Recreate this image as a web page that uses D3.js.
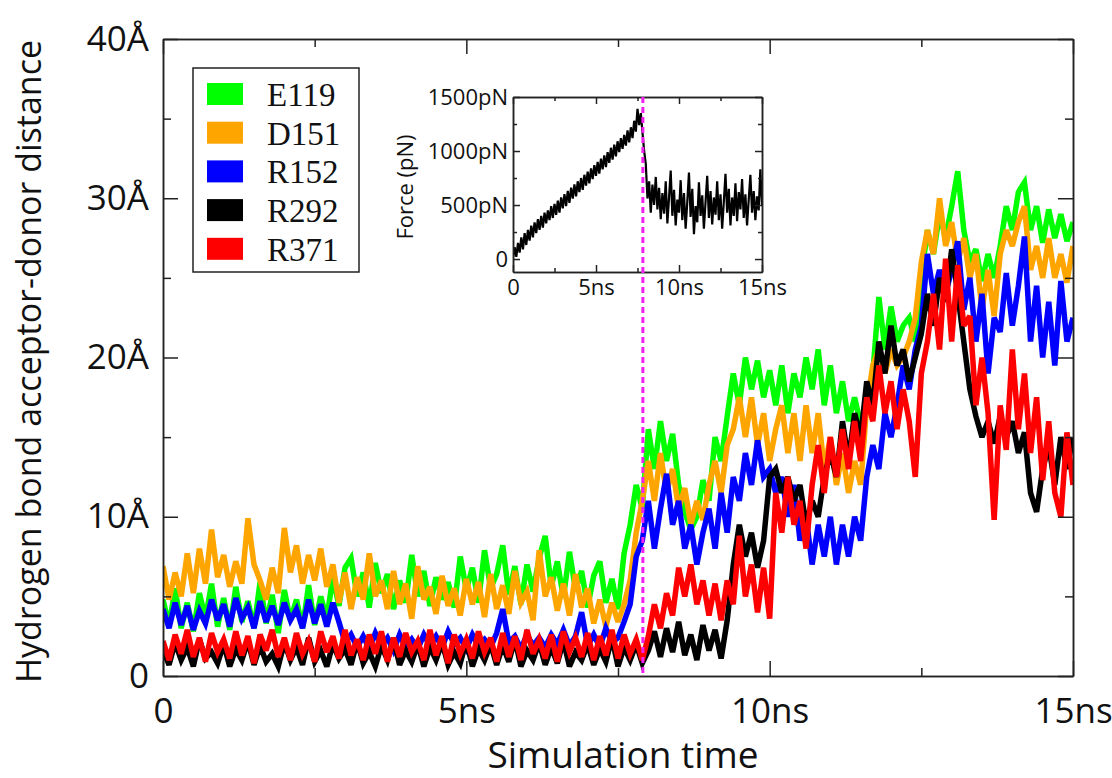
<!DOCTYPE html>
<html>
<head>
<meta charset="utf-8">
<script src="https://d3js.org/d3.v7.min.js"></script>
<style>
  body { margin: 0; background: #fff; }
  svg { display: block; }
</style>
</head>
<body>
<div id="chart"></div>
<script>
// samples are 0.1 ns apart, starting at 0 ns
var timeStep = 0.1;

// hydrogen bond acceptor-donor distance (Å)
var e119 = [4.8,3.2,5.5,3.0,4.6,2.8,5.2,3.6,5.8,3.1,4.9,2.9,5.6,3.4,4.7,3.0,5.9,3.3,5.1,2.7,
  5.4,3.5,4.8,3.0,5.7,3.2,5.0,3.6,6.2,4.4,6.8,7.4,5.0,6.5,4.3,7.1,5.2,6.4,4.2,6.0,
  4.6,7.6,5.0,6.6,4.4,6.2,4.8,5.9,4.3,7.5,5.4,6.8,4.6,7.9,5.5,6.4,8.2,5.1,6.9,4.5,
  7.0,5.3,7.4,8.8,5.6,7.2,4.9,7.8,5.4,6.6,4.3,6.3,7.2,4.6,6.1,4.2,7.7,9.5,12.0,10.5,
  15.5,13.0,16.0,13.5,15.2,12.0,10.3,9.2,10.0,12.3,11.0,15.0,13.5,16.3,19.0,17.0,20.0,18.0,19.8,17.5,
  19.2,17.0,19.5,16.5,19.0,17.5,20.0,18.0,20.5,17.0,19.5,16.5,18.5,16.0,17.5,15.8,17.0,19.0,23.8,20.5,
  23.2,21.0,22.0,22.5,21.0,25.0,28.0,26.5,29.0,27.5,29.5,31.7,28.0,26.0,26.8,24.8,26.5,25.0,27.0,29.5,
  28.0,30.4,31.0,28.0,29.5,27.2,29.3,27.5,29.0,27.3,28.5];
var d151 = [6.9,4.8,6.5,5.0,7.7,5.2,8.0,5.8,9.2,6.2,7.6,5.6,7.2,5.8,9.9,7.0,6.0,4.8,6.8,5.2,
  9.3,6.5,8.2,5.8,7.6,6.0,8.0,5.6,7.0,4.6,6.5,4.2,6.2,4.8,7.7,5.0,6.0,4.2,6.6,4.5,
  5.8,3.6,6.9,4.8,5.6,3.9,6.3,4.4,5.5,3.8,6.1,4.5,5.9,3.7,6.4,4.2,5.7,3.9,6.6,4.6,
  5.3,3.5,7.9,5.0,6.2,4.1,5.8,3.8,6.4,4.3,5.5,3.3,4.8,3.1,4.6,3.4,4.5,6.0,9.0,11.0,
  13.5,11.0,14.0,11.5,13.0,10.5,11.8,9.5,11.0,9.8,12.0,13.5,11.5,14.5,15.5,17.5,15.0,17.5,14.5,16.5,
  13.5,15.5,17.0,14.0,16.5,13.5,17.0,14.0,16.5,13.0,15.0,12.0,14.0,11.5,13.5,12.0,17.0,19.5,20.5,19.0,
  20.5,19.5,20.0,21.0,22.5,26.0,28.0,26.5,30.0,27.0,28.5,26.0,27.5,25.0,26.5,23.0,25.5,22.6,26.5,28.0,
  27.0,28.5,29.5,25.5,27.0,25.0,27.5,25.0,26.5,24.7,27.0];
var r152 = [4.2,3.0,4.6,3.2,4.4,2.9,4.1,3.3,4.8,3.5,4.5,3.1,4.9,3.6,4.3,3.0,4.7,3.4,4.4,3.2,
  4.6,3.5,4.2,3.0,4.8,3.3,4.5,3.1,4.6,3.4,2.1,2.6,1.8,2.5,1.7,2.7,1.9,2.4,1.6,2.6,
  1.8,2.3,1.7,2.6,1.9,2.5,1.8,2.8,2.0,2.4,1.7,2.6,1.9,2.3,1.8,2.7,4.2,2.1,2.5,1.7,
  2.6,1.9,2.4,1.8,2.6,2.0,2.9,1.9,2.5,4.0,1.9,2.6,1.8,3.0,2.1,2.4,3.4,4.5,7.5,8.5,
  11.0,8.0,10.5,12.7,9.5,11.0,8.0,9.5,7.0,9.0,10.5,8.0,11.5,9.0,12.5,11.0,14.0,12.0,14.8,12.5,
  13.0,11.5,12.5,10.0,12.0,8.5,10.0,7.0,9.5,7.5,10.0,7.0,9.5,7.5,10.0,8.5,12.5,14.5,13.0,16.5,
  15.0,17.0,19.5,18.0,20.5,22.0,26.5,24.0,25.5,24.0,25.5,27.3,23.0,25.0,21.0,24.0,19.0,22.5,21.6,25.3,
  22.0,24.5,27.6,21.0,24.5,20.0,23.5,19.5,24.8,21.0,22.5];
var r292 = [1.6,0.7,2.1,1.0,1.8,0.6,2.3,1.1,1.5,0.8,2.0,0.6,1.7,1.0,2.2,0.7,1.9,0.9,1.4,0.6,
  2.1,1.0,1.8,0.7,2.4,0.9,1.6,0.6,2.0,1.1,1.7,0.7,2.2,0.8,1.5,0.6,1.9,1.0,2.3,0.7,
  1.6,0.9,2.0,0.6,1.8,1.0,2.1,0.7,1.5,0.8,2.2,0.6,1.7,1.0,2.0,0.7,1.9,0.9,2.3,0.6,
  1.6,1.0,2.1,0.7,1.8,0.8,2.2,0.6,1.5,1.0,2.0,0.7,1.7,0.9,2.4,0.6,1.8,1.0,2.0,0.8,
  1.6,2.8,1.2,3.0,1.5,3.4,1.3,2.6,1.0,3.2,1.6,2.9,1.1,3.5,7.0,9.5,7.5,9.0,6.8,8.5,
  12.5,13.0,11.5,12.5,11.0,12.0,9.5,11.0,10.0,12.5,14.0,12.5,16.0,13.5,16.5,15.0,18.5,17.0,21.0,19.0,
  22.0,19.5,20.5,18.5,20.0,21.5,24.0,22.0,25.0,23.5,26.8,24.0,21.0,18.0,16.3,15.0,16.0,14.6,16.3,15.0,
  16.0,14.0,15.3,11.5,10.3,13.0,14.5,12.0,15.0,13.0,15.0];
var r371 = [2.2,1.0,2.6,1.4,2.9,1.2,2.4,0.9,2.7,1.5,2.3,1.1,2.8,1.3,2.5,0.8,2.6,1.6,2.9,1.2,
  2.4,1.0,2.7,1.4,2.2,0.9,2.8,1.5,2.5,1.1,2.9,1.3,2.3,1.0,2.6,1.4,2.8,0.9,2.4,1.2,
  2.7,1.5,2.2,1.0,2.9,1.3,2.5,0.8,2.6,1.4,2.3,1.1,2.8,1.5,2.4,0.9,2.7,1.2,2.5,1.0,
  2.9,1.4,2.3,1.1,2.6,0.9,2.8,1.5,2.4,1.2,2.7,1.0,2.5,1.3,2.9,1.1,2.6,1.4,2.3,1.0,
  2.5,4.5,3.0,5.2,3.8,6.8,5.0,7.0,4.5,6.0,3.8,5.8,3.5,6.0,4.5,8.8,5.0,7.0,4.0,6.8,
  3.6,11.5,9.0,12.5,9.5,11.0,8.0,12.0,14.5,11.5,15.0,12.5,15.5,13.0,16.0,13.5,17.5,16.0,19.5,16.5,
  18.5,15.5,18.0,16.0,12.5,19.0,21.0,24.0,20.5,26.2,21.0,25.8,22.0,22.6,17.0,20.0,16.5,9.8,17.0,14.2,
  20.5,15.5,19.0,14.0,17.5,12.3,16.0,11.5,10.0,15.3,12.0];

// pulling force for the inset (pN)
var force = [10,110,20,150,60,200,90,240,130,270,170,310,200,340,240,370,270,400,290,430,
  330,450,360,490,380,510,410,540,430,570,470,600,490,630,520,660,560,690,580,720,
  620,750,640,780,680,810,700,840,740,870,770,900,790,930,830,960,850,990,890,1030,
  920,1060,950,1090,990,1120,1020,1150,1050,1190,1080,1220,1120,1280,1180,1390,1240,1350,1170,1000,
  880,560,720,430,690,500,760,460,660,370,610,420,720,330,570,820,400,640,310,550,
  430,730,360,610,280,530,800,390,650,230,490,340,710,400,590,280,530,770,380,630,
  320,570,410,720,360,600,280,530,790,430,650,310,570,400,700,350,620,460,740,380,
  600,310,550,780,430,630,360,580,450,830,500];

var residues = ["E119", "D151", "R152", "R292", "R371"];
var series = [e119, d151, r152, r292, r371];
var colors = ["#00ff00", "#ffa500", "#0000ff", "#000000", "#ff0000"];
var ruptureTime = 7.91; // ns, dashed marker

var yMajor = [0, 10, 20, 30, 40], yMinor = [5, 15, 25, 35];
var xMajor = [0, 5, 10, 15], xMinor = [2.5, 7.5, 12.5];
var fMajor = [0, 500, 1000, 1500], fMinor = [250, 750, 1250];

var sans = "'Open Sans', 'DejaVu Sans', sans-serif";
var serif = "'Liberation Serif', 'DejaVu Serif', serif";

var margin = {top: 39, right: 39, bottom: 102, left: 163},
    width = 1112 - margin.left - margin.right,
    height = 778 - margin.top - margin.bottom;

var svg = d3.select("#chart")
  .append("svg")
  .attr("width", 1112)
  .attr("height", 778);

var g = svg.append("g")
  .attr("transform", "translate(" + margin.left + "," + margin.top + ")");

var x = d3.scaleLinear().domain([0, 15]).range([0, width]);
var y = d3.scaleLinear().domain([0, 40]).range([height, 0]);

g.append("clipPath").attr("id", "plotClip")
  .append("rect").attr("width", width).attr("height", height);

// data lines, drawn thick so the noisy traces read as bands
var line = d3.line()
  .x(function(d, i) { return x(i * timeStep); })
  .y(function(d) { return y(d); });

g.append("g").attr("clip-path", "url(#plotClip)")
  .selectAll("path")
  .data(series)
  .enter()
  .append("path")
  .attr("d", line)
  .attr("fill", "none")
  .attr("stroke", function(d, i) { return colors[i]; })
  .attr("stroke-width", 5.5)
  .attr("stroke-linejoin", "miter")
  .attr("stroke-miterlimit", 3);

function styleAxis(sel, size) {
  sel.attr("font-family", sans).attr("font-size", size);
  sel.select(".domain").attr("stroke-width", 1.5).attr("stroke", "#222");
  sel.selectAll(".tick line").attr("stroke-width", 1.5).attr("stroke", "#222");
  sel.selectAll(".tick text").attr("fill", "#111");
}

function mainFormatY(d) { return d === 0 ? "0" : d + "Å"; }
function mainFormatX(d) { return d === 0 ? "0" : d + "ns"; }

// main axes: major ticks with labels, minor ticks without
g.append("g").call(d3.axisLeft(y).tickValues(yMajor).tickSize(-15).tickSizeOuter(0).tickPadding(14).tickFormat(mainFormatY))
  .call(styleAxis, 35);
g.append("g").call(d3.axisLeft(y).tickValues(yMinor).tickSize(-8).tickSizeOuter(0).tickFormat(""))
  .call(styleAxis, 35);
g.append("g").attr("transform", "translate(" + width + ",0)")
  .call(d3.axisRight(y).tickValues(yMajor).tickSize(-15).tickSizeOuter(0).tickFormat(""))
  .call(styleAxis, 35);
g.append("g").attr("transform", "translate(" + width + ",0)")
  .call(d3.axisRight(y).tickValues(yMinor).tickSize(-8).tickSizeOuter(0).tickFormat(""))
  .call(styleAxis, 35);
g.append("g").attr("transform", "translate(0," + height + ")")
  .call(d3.axisBottom(x).tickValues(xMajor).tickSize(-15).tickSizeOuter(0).tickPadding(22).tickFormat(mainFormatX))
  .call(styleAxis, 35);
g.append("g").attr("transform", "translate(0," + height + ")")
  .call(d3.axisBottom(x).tickValues(xMinor).tickSize(-8).tickSizeOuter(0).tickFormat(""))
  .call(styleAxis, 35);
g.append("g")
  .call(d3.axisTop(x).tickValues(xMajor).tickSize(-15).tickSizeOuter(0).tickFormat(""))
  .call(styleAxis, 35);
g.append("g")
  .call(d3.axisTop(x).tickValues(xMinor).tickSize(-8).tickSizeOuter(0).tickFormat(""))
  .call(styleAxis, 35);

// axis titles
svg.append("text")
  .attr("x", 623)
  .attr("y", 768)
  .attr("text-anchor", "middle")
  .attr("font-family", sans)
  .attr("font-size", 37)
  .attr("fill", "#111")
  .text("Simulation time");

svg.append("text")
  .attr("transform", "translate(41," + (margin.top + height / 2 + 4) + ")rotate(-90)")
  .attr("text-anchor", "middle")
  .attr("font-family", sans)
  .attr("font-size", 34)
  .attr("fill", "#111")
  .text("Hydrogen bond acceptor-donor distance");

// legend
var legend = svg.append("g").attr("transform", "translate(193,68)");
legend.append("rect")
  .attr("width", 166).attr("height", 204)
  .attr("fill", "#fff").attr("stroke", "#222").attr("stroke-width", 1.5);
var item = legend.selectAll(".item")
  .data(residues)
  .enter()
  .append("g")
  .attr("transform", function(d, i) { return "translate(0," + (15 + i * 38.7) + ")"; });
item.append("rect")
  .attr("x", 14).attr("width", 36).attr("height", 22)
  .attr("fill", function(d, i) { return colors[i]; });
item.append("text")
  .attr("x", 74).attr("y", 23)
  .attr("font-family", serif)
  .attr("font-size", 33)
  .attr("fill", "#111")
  .text(function(d) { return d; });

// inset: force vs time
var inset = {left: 513, top: 97, width: 249, height: 175};
var ig = svg.append("g").attr("transform", "translate(" + inset.left + "," + inset.top + ")");
var ix = d3.scaleLinear().domain([0, 15]).range([0, inset.width]);
var iy = d3.scaleLinear().domain([-120, 1500]).range([inset.height, 0]);

ig.append("rect").attr("width", inset.width).attr("height", inset.height).attr("fill", "#fff");
ig.append("clipPath").attr("id", "insetClip")
  .append("rect").attr("width", inset.width).attr("height", inset.height);

ig.append("path")
  .datum(force)
  .attr("clip-path", "url(#insetClip)")
  .attr("d", d3.line()
    .x(function(d, i) { return ix(i * timeStep); })
    .y(function(d) { return iy(d); }))
  .attr("fill", "none")
  .attr("stroke", "#000")
  .attr("stroke-width", 2.2);

function insetFormatF(d) { return d === 0 ? "0" : d + "pN"; }
function insetFormatT(d) { return d === 0 ? "0" : d + "ns"; }

ig.append("g").call(d3.axisLeft(iy).tickValues(fMajor).tickSize(-7).tickSizeOuter(0).tickPadding(5).tickFormat(insetFormatF))
  .call(styleAxis, 22);
ig.append("g").call(d3.axisLeft(iy).tickValues(fMinor).tickSize(-4).tickSizeOuter(0).tickFormat(""))
  .call(styleAxis, 22);
ig.append("g").attr("transform", "translate(" + inset.width + ",0)")
  .call(d3.axisRight(iy).tickValues(fMajor).tickSize(-7).tickSizeOuter(0).tickFormat(""))
  .call(styleAxis, 22);
ig.append("g").attr("transform", "translate(" + inset.width + ",0)")
  .call(d3.axisRight(iy).tickValues(fMinor).tickSize(-4).tickSizeOuter(0).tickFormat(""))
  .call(styleAxis, 22);
ig.append("g").attr("transform", "translate(0," + inset.height + ")")
  .call(d3.axisBottom(ix).tickValues(xMajor).tickSize(-7).tickSizeOuter(0).tickPadding(7).tickFormat(insetFormatT))
  .call(styleAxis, 22);
ig.append("g").attr("transform", "translate(0," + inset.height + ")")
  .call(d3.axisBottom(ix).tickValues(xMinor).tickSize(-4).tickSizeOuter(0).tickFormat(""))
  .call(styleAxis, 22);
ig.append("g")
  .call(d3.axisTop(ix).tickValues(xMajor).tickSize(-7).tickSizeOuter(0).tickFormat(""))
  .call(styleAxis, 22);
ig.append("g")
  .call(d3.axisTop(ix).tickValues(xMinor).tickSize(-4).tickSizeOuter(0).tickFormat(""))
  .call(styleAxis, 22);

svg.append("text")
  .attr("transform", "translate(413," + (inset.top + 90) + ")rotate(-90)")
  .attr("text-anchor", "middle")
  .attr("font-family", sans)
  .attr("font-size", 22)
  .attr("fill", "#111")
  .text("Force (pN)");

// dashed marker at the rupture time, from inset top down to the main x axis
svg.append("line")
  .attr("x1", margin.left + x(ruptureTime))
  .attr("x2", margin.left + x(ruptureTime))
  .attr("y1", inset.top)
  .attr("y2", margin.top + height)
  .attr("stroke", "#f020f0")
  .attr("stroke-width", 3)
  .attr("stroke-dasharray", "6,4");
</script>
</body>
</html>
